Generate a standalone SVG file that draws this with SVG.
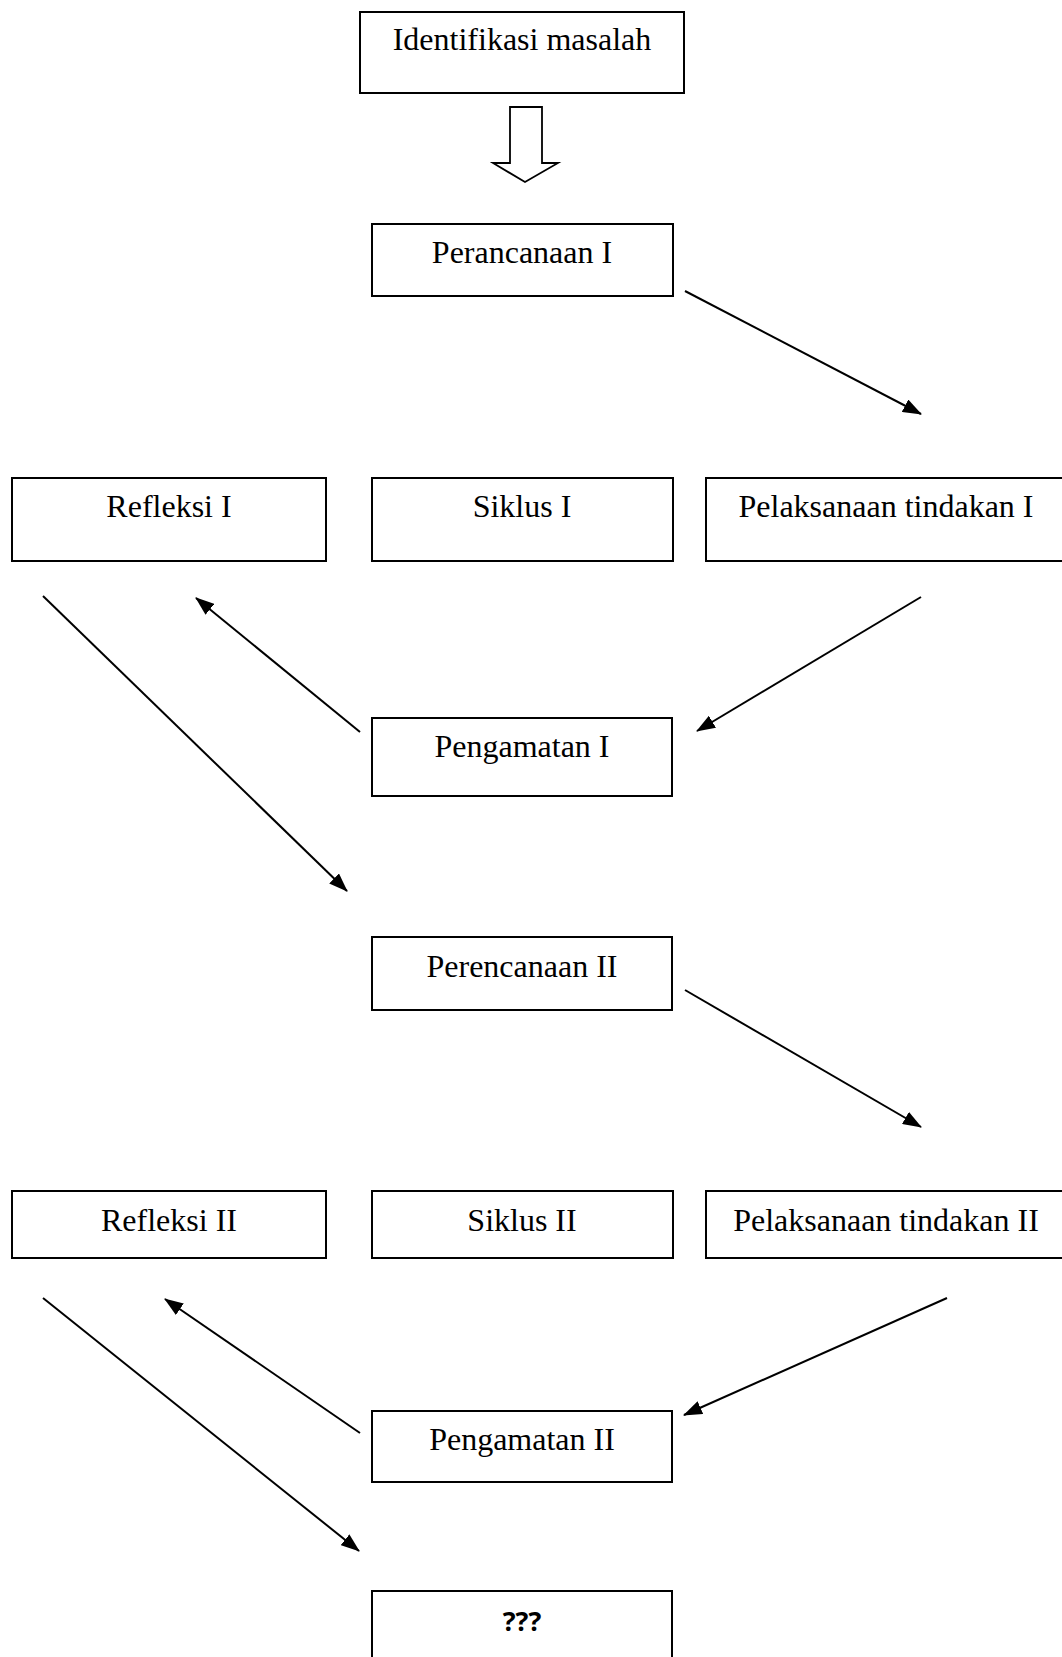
<svg xmlns="http://www.w3.org/2000/svg" width="1062" height="1657" viewBox="0 0 1062 1657">
<style>
.box{fill:#fff;stroke:#000;stroke-width:2}
.lbl{font-family:"Liberation Serif","Times New Roman",serif;font-size:32px;fill:#000;text-anchor:middle}
.q{font-family:"Open Sans","Liberation Sans",sans-serif;font-size:27px;font-weight:bold;fill:#000;text-anchor:middle}
.con{stroke:#000;stroke-width:2;fill:none;marker-end:url(#ah)}
</style>
<defs>
<marker id="ah" markerUnits="userSpaceOnUse" markerWidth="20" markerHeight="14" refX="18" refY="7" orient="auto">
<path d="M0,0 L19,7 L0,14 z" fill="#000"/>
</marker>
</defs>
<rect width="1062" height="1657" fill="#fff"/>
<g id="n-identifikasi"><rect class="box" x="360" y="12" width="324" height="81"/><text class="lbl" x="522" y="50">Identifikasi masalah</text></g>
<g id="n-perancanaan1"><rect class="box" x="372" y="224" width="301" height="72"/><text class="lbl" x="522" y="263">Perancanaan I</text></g>
<g id="n-refleksi1"><rect class="box" x="12" y="478" width="314" height="83"/><text class="lbl" x="169" y="517">Refleksi I</text></g>
<g id="n-siklus1"><rect class="box" x="372" y="478" width="301" height="83"/><text class="lbl" x="522" y="517">Siklus I</text></g>
<g id="n-pelaksanaan1"><rect class="box" x="706" y="478" width="360" height="83"/><text class="lbl" x="886" y="517">Pelaksanaan tindakan I</text></g>
<g id="n-pengamatan1"><rect class="box" x="372" y="718" width="300" height="78"/><text class="lbl" x="522" y="757">Pengamatan I</text></g>
<g id="n-perencanaan2"><rect class="box" x="372" y="937" width="300" height="73"/><text class="lbl" x="522" y="977">Perencanaan II</text></g>
<g id="n-refleksi2"><rect class="box" x="12" y="1191" width="314" height="67"/><text class="lbl" x="169" y="1231">Refleksi II</text></g>
<g id="n-siklus2"><rect class="box" x="372" y="1191" width="301" height="67"/><text class="lbl" x="522" y="1231">Siklus II</text></g>
<g id="n-pelaksanaan2"><rect class="box" x="706" y="1191" width="360" height="67"/><text class="lbl" x="886" y="1231">Pelaksanaan tindakan II</text></g>
<g id="n-pengamatan2"><rect class="box" x="372" y="1411" width="300" height="71"/><text class="lbl" x="522" y="1450">Pengamatan II</text></g>
<g id="n-result"><rect class="box" x="372" y="1591" width="300" height="80"/><text class="q" x="522" y="1631">???</text></g>
<g id="connectors">
<polygon points="510,107 542,107 542,163 558,163 525,182 493,163 510,163" fill="#fff" stroke="#000" stroke-width="1.8"/>
<line class="con" x1="685" y1="291" x2="921" y2="414"/>
<line class="con" x1="921" y1="597" x2="697" y2="731"/>
<line class="con" x1="360" y1="732" x2="196" y2="598"/>
<line class="con" x1="43" y1="596" x2="347" y2="891"/>
<line class="con" x1="685" y1="990" x2="921" y2="1127"/>
<line class="con" x1="947" y1="1298" x2="684" y2="1415"/>
<line class="con" x1="360" y1="1433" x2="165" y2="1299"/>
<line class="con" x1="43" y1="1298" x2="359" y2="1551"/>
</g>
</svg>
